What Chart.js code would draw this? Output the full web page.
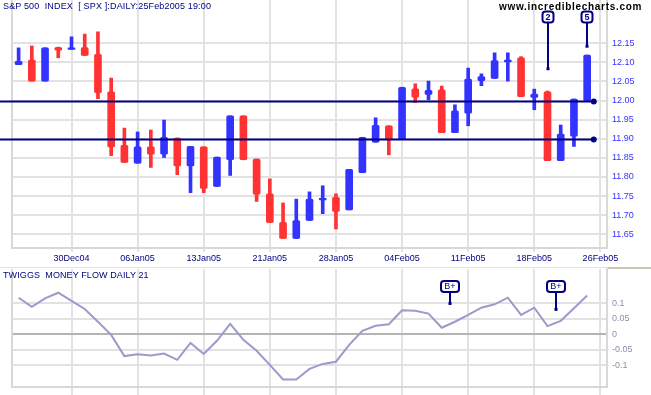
<!DOCTYPE html>
<html><head><meta charset="utf-8">
<script src="https://cdn.jsdelivr.net/npm/chart.js@4"></script>
<style>
html,body{margin:0;padding:0;background:#fff;width:651px;height:395px;overflow:hidden;}
#wrap{position:relative;width:651px;height:395px;}
canvas{position:absolute;left:0;}
#c1{top:0}
#c2{top:268px}
.t{position:absolute;font-family:'Liberation Sans',Arial,sans-serif;white-space:pre;line-height:1;}
#title{left:3px;top:2px;font-size:9px;color:#000080;letter-spacing:0.15px}
#wm{left:499px;top:2px;font-size:10px;font-weight:bold;color:#000;letter-spacing:0.7px}
#title2{left:3px;top:271px;font-size:9px;color:#000080;letter-spacing:0.1px}
#sep{position:absolute;left:0;top:267px;width:651px;height:1px;background:#e2e2d6}
#sep2{position:absolute;left:608px;top:267px;width:43px;height:2px;background:#c8c8b4}
</style></head><body>
<div id="wrap">
<canvas id="c1" width="651" height="268"></canvas>
<canvas id="c2" width="651" height="127"></canvas>
<div id="sep"></div><div id="sep2"></div>
<div class="t" id="title">S&amp;P 500  INDEX  [ SPX ]:DAILY:25Feb2005 19:00</div>
<div class="t" id="wm">www.incrediblecharts.com</div>
<div class="t" id="title2">TWIGGS  MONEY FLOW DAILY 21</div>
</div>
<script>
// ---- data ----
const dates = ['23Dec04','27Dec04','28Dec04','29Dec04','30Dec04','31Dec04',
 '03Jan05','04Jan05','05Jan05','06Jan05','07Jan05','10Jan05','11Jan05','12Jan05','13Jan05','14Jan05',
 '18Jan05','19Jan05','20Jan05','21Jan05','24Jan05','25Jan05','26Jan05','27Jan05','28Jan05','31Jan05',
 '01Feb05','02Feb05','03Feb05','04Feb05','07Feb05','08Feb05','09Feb05','10Feb05','11Feb05',
 '14Feb05','15Feb05','16Feb05','17Feb05','18Feb05','22Feb05','23Feb05','24Feb05','25Feb05','26Feb05'];
const xTickLabels = ['30Dec04','06Jan05','13Jan05','21Jan05','28Jan05','04Feb05','11Feb05','18Feb05','26Feb05'];
const opens  = [12.094,12.106,12.051,12.139,12.134,12.139,12.121,12.023,11.883,11.836,11.879,11.860,11.902,11.829,11.879,11.775,11.845,11.960,11.847,11.756,11.681,11.639,11.686,11.740,11.747,11.714,11.811,11.891,11.934,11.898,12.031,12.016,12.028,11.916,11.967,12.052,12.058,12.101,12.112,12.008,12.023,11.843,11.907,12.000];
const highs  = [12.138,12.143,12.138,12.140,12.167,12.174,12.180,12.059,11.928,11.918,11.923,11.949,11.902,11.880,11.879,11.852,11.960,11.960,11.847,11.795,11.732,11.742,11.761,11.777,11.756,11.820,11.904,11.955,11.934,12.035,12.044,12.051,12.038,11.989,12.085,12.070,12.125,12.125,12.115,12.030,12.025,11.936,12.004,12.119];
const lows   = [12.094,12.051,12.051,12.112,12.134,12.118,12.005,11.856,11.838,11.836,11.825,11.851,11.806,11.759,11.759,11.775,11.804,11.845,11.736,11.681,11.639,11.639,11.686,11.704,11.664,11.714,11.811,11.891,11.858,11.898,11.995,12.002,11.916,11.916,11.934,12.039,12.058,12.051,12.010,11.976,11.843,11.843,11.880,12.000];
const closes = [12.103,12.051,12.138,12.132,12.138,12.118,12.021,11.879,11.838,11.879,11.860,11.904,11.829,11.880,11.770,11.852,11.960,11.845,11.755,11.681,11.639,11.686,11.742,11.744,11.710,11.820,11.904,11.935,11.897,12.035,12.009,12.027,11.916,11.973,12.056,12.063,12.105,12.106,12.010,12.017,11.843,11.912,12.004,12.119];
const priceTicks = [11.65,11.70,11.75,11.80,11.85,11.90,11.95,12.00,12.05,12.10,12.15];
const levels = [12.00, 11.90];
const signalIdx = [40, 43];
const signalText = ['2', '5'];
const signalEnd = [12.082, 12.141];
const tmf = [0.117,0.088,0.115,0.133,0.107,0.081,0.040,-0.002,-0.070,-0.064,-0.068,-0.062,-0.082,-0.028,-0.063,-0.021,0.033,-0.018,-0.053,-0.098,-0.145,-0.145,-0.111,-0.095,-0.088,-0.034,0.011,0.027,0.032,0.077,0.075,0.066,0.021,0.040,0.062,0.085,0.096,0.117,0.062,0.085,0.026,0.043,0.083,0.124];
const tmfTicks = [-0.1,-0.05,0,0.05,0.1];
const tmfSignalIdx = [32.65, 40.65];
const tmfSignalText = ['B+', 'B+'];
const tmfSignalEnd = [0.097, 0.078];

// ---- styles ----
const BLUE = '#3333ff', RED = '#ff3333', NAVY = '#000080';
const GRID = '#e2e2e2', BORDER = '#d8d8d8';
const FONT = "'Liberation Sans', Arial, sans-serif";
const colors = closes.map((c, i) => c >= opens[i] ? BLUE : RED);
const xGridColor = ctx => (ctx.tick && xTickLabels.includes(dates[ctx.tick.value])) ? GRID : 'rgba(0,0,0,0)';

function drawTag(ctx, cx, cy, w, h, text, font) {
  ctx.save();
  ctx.fillStyle = '#fff';
  ctx.strokeStyle = NAVY;
  ctx.lineWidth = 2;
  ctx.beginPath();
  ctx.roundRect(cx - w / 2, cy - h / 2, w, h, 3);
  ctx.fill(); ctx.stroke();
  ctx.fillStyle = NAVY;
  ctx.font = font;
  ctx.textAlign = 'center';
  ctx.textBaseline = 'middle';
  ctx.fillText(text, cx, cy + 0.5);
  ctx.restore();
}

const leftBorder = {
  id: 'leftBorder',
  beforeDatasetsDraw(chart) {
    const {ctx, chartArea: a} = chart;
    ctx.save();
    ctx.fillStyle = BORDER;
    ctx.fillRect(a.left - 1, a.top, 2, a.bottom - a.top + 1);
    ctx.restore();
  }
};

const overlay1 = {
  id: 'overlay1',
  afterDatasetsDraw(chart) {
    const {ctx} = chart;
    const xs = chart.scales.x, ys = chart.scales.y;
    const xEnd = xs.getPixelForValue(closes.length - 0.5);
    ctx.save();
    ctx.strokeStyle = NAVY; ctx.fillStyle = NAVY; ctx.lineWidth = 2;
    levels.forEach(v => {
      const y = Math.round(ys.getPixelForValue(v)) + 0.5;
      ctx.beginPath(); ctx.moveTo(0, y); ctx.lineTo(xEnd, y); ctx.stroke();
      ctx.beginPath(); ctx.arc(xEnd, y, 3, 0, Math.PI * 2); ctx.fill();
    });
    signalIdx.forEach((idx, k) => {
      const x = Math.round(xs.getPixelForValue(idx));
      const yEnd = ys.getPixelForValue(signalEnd[k]);
      ctx.fillRect(x - 1, 22, 2, yEnd - 22);
      ctx.fillRect(x - 1.5, yEnd - 2, 3, 3);
      drawTag(ctx, x, 17, 11, 11, signalText[k], "bold 9px " + FONT);
    });
    ctx.restore();
  }
};

const overlay2 = {
  id: 'overlay2',
  afterDatasetsDraw(chart) {
    const {ctx} = chart;
    const xs = chart.scales.x, ys = chart.scales.y;
    ctx.save();
    ctx.fillStyle = NAVY;
    tmfSignalIdx.forEach((idx, k) => {
      const x = Math.round(xs.getPixelForValue(idx));
      const yEnd = ys.getPixelForValue(tmfSignalEnd[k]);
      ctx.fillRect(x - 1, 24, 2, yEnd - 24);
      ctx.fillRect(x - 1.5, yEnd - 2, 3, 3);
      drawTag(ctx, x, 18.5, 18, 11, tmfSignalText[k], "9px " + FONT);
    });
    ctx.restore();
  }
};

Chart.defaults.font.family = FONT;

new Chart(document.getElementById('c1'), {
  type: 'bar',
  data: {
    labels: dates,
    datasets: [
      {data: lows.map((l, i) => [l, highs[i]]), backgroundColor: colors, barThickness: 3, grouped: false, order: 2},
      {data: opens.map((o, i) => [o, closes[i]]), backgroundColor: colors, barThickness: 7, grouped: false, order: 1,
       borderRadius: 1.5, borderSkipped: false}
    ]
  },
  options: {
    responsive: false, animation: false, events: [],
    layout: {padding: {left: 12, top: 0, right: 0, bottom: 0}},
    plugins: {legend: {display: false}, tooltip: {enabled: false}},
    scales: {
      x: {
        type: 'category', offset: true,
        grid: {offset: false, color: xGridColor, lineWidth: 2, tickLength: 4, drawTicks: true},
        border: {display: true, color: BORDER, width: 2},
        ticks: {autoSkip: false, maxRotation: 0, minRotation: 0, padding: 1, color: NAVY,
          font: {size: 9},
          callback: function (v) { const l = this.getLabelForValue(v); return xTickLabels.includes(l) ? l : ''; }},
        afterFit(s) { s.height = 20; s.paddingLeft = 0; s.paddingRight = 0; }
      },
      y: {
        position: 'right', min: 11.6141, max: 12.2633,
        afterBuildTicks(s) { s.ticks = priceTicks.map(v => ({value: v})); },
        grid: {color: GRID, lineWidth: 2, drawTicks: false},
        border: {display: true, color: BORDER, width: 2},
        ticks: {color: BLUE, font: {size: 9}, padding: 5, callback: v => Number(v).toFixed(2)},
        afterFit(s) { s.width = 44; s.paddingTop = 0; s.paddingBottom = 0; }
      }
    }
  },
  plugins: [leftBorder, overlay1]
});

new Chart(document.getElementById('c2'), {
  type: 'line',
  data: {
    labels: dates,
    datasets: [{data: tmf, borderColor: '#9a9acc', borderWidth: 2, pointRadius: 0, tension: 0, fill: false}]
  },
  options: {
    responsive: false, animation: false, events: [],
    layout: {padding: {left: 12, top: 1, right: 0, bottom: 0}},
    plugins: {legend: {display: false}, tooltip: {enabled: false}},
    scales: {
      x: {
        type: 'category', offset: true,
        grid: {offset: false, color: xGridColor, lineWidth: 2, tickLength: 8, drawTicks: true},
        border: {display: true, color: BORDER, width: 2},
        ticks: {display: false, autoSkip: false},
        afterFit(s) { s.height = 8; s.paddingLeft = 0; s.paddingRight = 0; }
      },
      y: {
        position: 'right', min: -0.169, max: 0.209,
        afterBuildTicks(s) { s.ticks = tmfTicks.map(v => ({value: v})); },
        grid: {color: ctx => (ctx.tick && ctx.tick.value === 0) ? '#b4b4b4' : GRID, lineWidth: 2, drawTicks: false},
        border: {display: true, color: BORDER, width: 2},
        ticks: {color: '#8c8cb0', font: {size: 9}, padding: 5, callback: v => String(Number(Number(v).toFixed(2)))},
        afterFit(s) { s.width = 44; s.paddingTop = 0; s.paddingBottom = 0; }
      }
    }
  },
  plugins: [leftBorder, overlay2]
});
</script>
</body></html>
